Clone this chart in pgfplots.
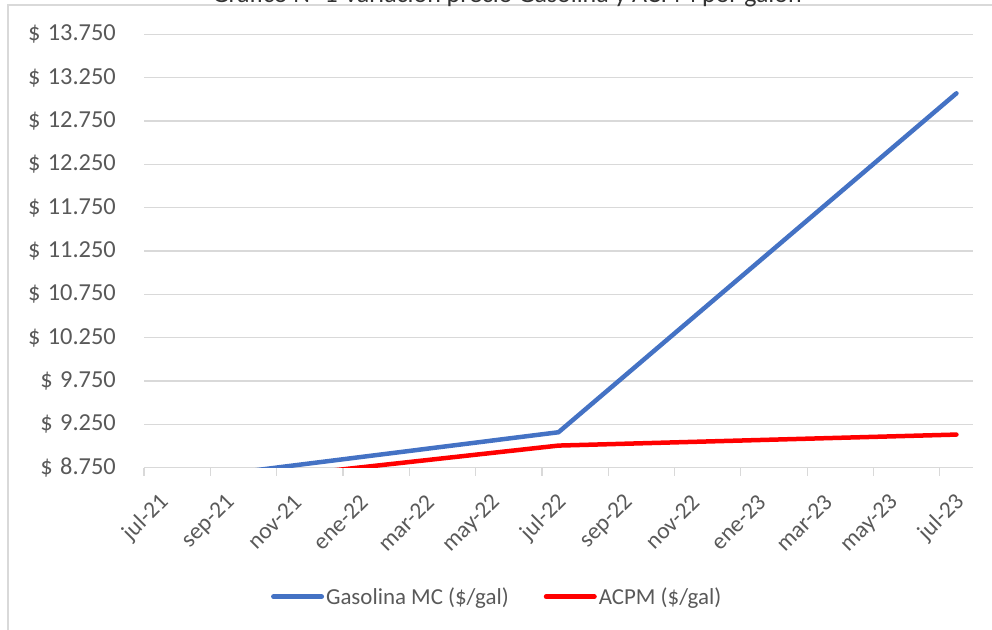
\documentclass[border=0pt]{standalone}
\usepackage{fontspec}
\setmainfont{Carlito}
\usepackage{pgfplots}
\pgfplotsset{compat=1.18}
\definecolor{gridgray}{HTML}{D9D9D9}
\definecolor{txtgray}{HTML}{595959}
\definecolor{gasblue}{HTML}{4472C4}
\definecolor{acpmred}{HTML}{FF0000}
\newcommand{\pesos}{\$\hspace{0.3em}}
\begin{document}
\begin{tikzpicture}[x=1bp,y=1bp]
\useasboundingbox (0,0) rectangle (992,630);
\draw[gridgray, line width=1.2bp] (8,0) -- (8,625) -- (992,625);
\node[anchor=base, text=black!80, font=\fontsize{26}{30}\selectfont] at (507,627) {Gráfico N° 1 Variación precio Gasolina y ACPM por galón};
\begin{axis}[
  at={(144bp,162.4bp)}, anchor=south west,
  scale only axis, width=829bp, height=433.3bp,
  xmin=0, xmax=25, ymin=8750, ymax=13750,
  scaled y ticks=false,
  axis line style={draw=none},
  ymajorgrids, grid style={color=gridgray, line width=1.2bp},
  xtick={0,2,...,24},
  xticklabels={jul-21,sep-21,nov-21,ene-22,mar-22,may-22,jul-22,sep-22,nov-22,ene-23,mar-23,may-23,jul-23},
  ytick={8750,9250,9750,10250,10750,11250,11750,12250,12750,13250,13750},
  yticklabels={\pesos 8.750,\pesos 9.250,\pesos 9.750,\pesos 10.250,\pesos 10.750,\pesos 11.250,\pesos 11.750,\pesos 12.250,\pesos 12.750,\pesos 13.250,\pesos 13.750},
  /pgf/number format/assume math mode=true,
  xtick pos=bottom, tick align=outside, major tick length=8bp,
  xtick style={color=gridgray, line width=1.2bp},
  ytick style={draw=none},
  ticklabel style={font=\fontsize{23.5}{27}\selectfont, text=txtgray},
  yticklabel style={anchor=east, inner sep=0pt, xshift=-20bp, font=\fontsize{24.5}{28}\selectfont},
  xticklabel style={inner sep=0pt, xshift=21bp, yshift=-23bp, rotate=45, anchor=east},
  legend columns=-1,
  legend style={at={(0.426,-0.298)}, anchor=center, draw=none, fill=none,
    font=\fontsize{23}{27}\selectfont, text=txtgray,
    /tikz/every even column/.append style={column sep=33bp}},
  legend image code/.code={\draw[#1, line width=5bp, line cap=round] (2.5bp,0bp) -- (50.5bp,0bp);},
  every axis plot/.append style={line width=4.5bp, line cap=round, line join=round},
]
\addplot[color=gasblue] coordinates {(0.5,8582) (12.5,9158) (24.5,13069)};
\addlegendentry{Gasolina MC (\$/gal)}
\addplot[color=acpmred] coordinates {(0.5,8498) (12.5,9004) (24.5,9131)};
\addlegendentry{ACPM (\$/gal)}
\end{axis}
\end{tikzpicture}
\end{document}
